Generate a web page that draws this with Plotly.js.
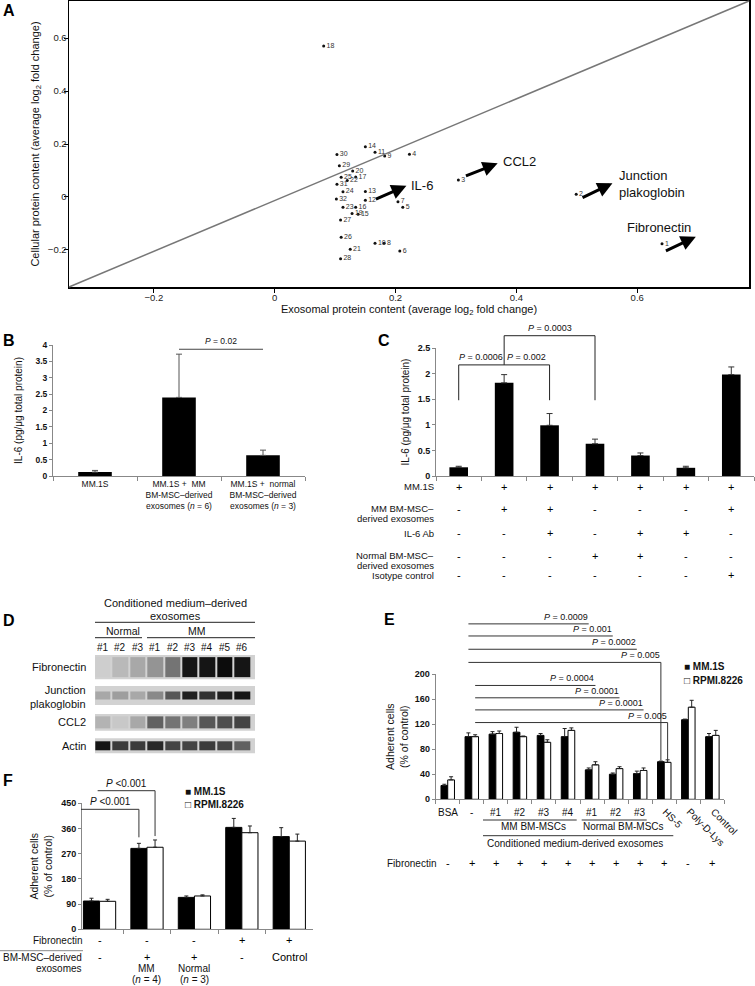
<!DOCTYPE html>
<html><head><meta charset="utf-8">
<script src="https://cdn.plot.ly/plotly-3.0.1.min.js"></script>
<style>html,body{margin:0;padding:0;background:#fff}#chart{width:755px;height:986px}</style>
</head><body><div id="chart"></div>
<script>
// ================= DATA =================
// Panel A: proteins (id), exosomal vs cellular log2 fold change
const aIds = ['1','2','3','4','5','6','7','8','9','10','11','12','13','14','15','16','17','18','19','20','21','22','23','24','25','26','27','28','29','30','31','32'];
const aExo = [0.641,0.499,0.304,0.223,0.212,0.207,0.204,0.181,0.182,0.166,0.166,0.150,0.150,0.150,0.138,0.134,0.134,0.081,0.128,0.129,0.125,0.120,0.113,0.113,0.110,0.110,0.109,0.109,0.107,0.103,0.103,0.102];
const aCell = [-0.177,0.010,0.064,0.161,-0.039,-0.204,-0.018,-0.175,0.155,-0.175,0.169,-0.012,0.021,0.190,-0.065,-0.039,0.075,0.570,-0.062,0.098,-0.197,0.062,-0.039,0.020,0.074,-0.152,-0.087,-0.233,0.118,0.160,0.048,-0.008];
const aTicks = [-0.2,0,0.2,0.4,0.6];

// Panel B
const bGroups = ['MM.1S','MM.1S +  MM<br>BM-MSC–derived<br>exosomes (<i>n</i> = 6)','MM.1S +  normal<br>BM-MSC–derived<br>exosomes (<i>n</i> = 3)'];
const bIL6 = [0.12, 2.40, 0.63];
const bErr = [0.05, 1.32, 0.16];
const bP = '0.02';

// Panel C
const cIL6 = [0.17, 1.82, 0.99, 0.63, 0.40, 0.16, 1.98];
const cErr = [0.02, 0.16, 0.23, 0.09, 0.05, 0.03, 0.15];
const cRows = [['MM.1S'],['MM BM-MSC–','derived exosomes'],['IL-6 Ab'],['Normal BM-MSC–','derived exosomes'],['Isotype control']];
const cSigns = [
  ['+','+','+','+','+','+','+'],
  ['-','+','+','-','-','-','+'],
  ['-','-','+','-','+','+','-'],
  ['-','-','-','+','+','-','-'],
  ['-','-','-','-','-','-','+']];
const cP = ['0.0006','0.002','0.0003'];

// Panel D (band intensities 0..1 per lane)
const dLanes = ['#1','#2','#3','#1','#2','#3','#4','#5','#6'];
const dProteins = ['Fibronectin','Junction<br>plakoglobin','CCL2','Actin'];
const dFibronectin = [0.02,0.12,0.2,0.3,0.45,0.95,0.95,1.0,0.95];
const dPlakoglobin = [0.2,0.25,0.2,0.35,0.6,0.9,0.8,0.9,0.95];
const dCCL2 = [0.15,0.05,0.2,0.55,0.45,0.4,0.6,0.65,0.7];
const dActin = [0.95,0.75,0.75,0.85,0.7,0.7,0.75,0.7,0.55];

// Panel E
const eCats = ['BSA','-','#1','#2','#3','#4','#1','#2','#3','HS-5','Poly-D-Lys','Control'];
const eMM = [22,100,104,107,102,100,47,40,41,60,127,100];
const eMMerr = [2,6,4,8,3,13,3,2,4,1,1,5];
const eRPMI = [31,100,105,100,91,110,55,49,46,59,147,102];
const eRPMIerr = [5,3,4,1,4,4,5,3,4,4,11,8];
const eFn = ['-','+','+','+','+','+','+','+','+','+','-','+'];
const ePmm = ['0.0009','0.001','0.0002','0.005'];
const ePrpmi = ['0.0004','0.0001','0.0001','0.005'];
const seriesNames = ['MM.1S','RPMI.8226'];

// Panel F
const fMM = [101,289,114,364,331];
const fMMerr = [10,18,5,32,32];
const fRPMI = [100,293,119,345,315];
const fRPMIerr = [7,26,4,24,25];
const fFn = ['-','-','-','+','+'];
const fExo = [['-'],['+','MM','(<i>n</i> = 4)'],['+','Normal','(<i>n</i> = 3)'],['-'],['Control']];
const fP = ['<0.001','<0.001'];

// ================= LAYOUT HELPERS =================
const FONT = 'Liberation Sans, Arial, Helvetica, sans-serif';
const W = 755, H = 986;
const PAN = {
  A:{x:[69,749], xr:[-0.3405,0.785], y:[1,287], yr:[-0.34,0.74]},
  B:{x:[53,305], xr:[-0.5,2.5], y:[345,476], yr:[0,4]},
  C:{x:[436,754], xr:[-0.5,6.5], y:[348,476], yr:[0,2.5]},
  D:{x:[95,255], xr:[-0.46,8.73], y:[650,758], yr:[108,0]},
  E:{x:[435.7,724.4], xr:[-0.5,11.5], y:[674,799.3], yr:[0,200]},
  F:{x:[82,313], xr:[-0.37,4.5], y:[803.3,929.3], yr:[0,450]}
};
const domX = p => [PAN[p].x[0]/W, PAN[p].x[1]/W];
const domY = p => [1-PAN[p].y[1]/H, 1-PAN[p].y[0]/H];
const pxX = (p,v) => {const a=PAN[p]; return a.x[0]+(v-a.xr[0])/(a.xr[1]-a.xr[0])*(a.x[1]-a.x[0]);};
const pxY = (p,v) => {const a=PAN[p]; return a.y[1]-(v-a.yr[0])/(a.yr[1]-a.yr[0])*(a.y[1]-a.y[0]);};
const fx = v => v/W, fy = v => 1-v/H;
const idx = arr => arr.map((_,i)=>i);
const zeros = arr => arr.map(()=>0);

const shapes = [];
const ann = [];
function seg(x0,y0,x1,y1,color,width){
  shapes.push({type:'line',xref:'paper',yref:'paper',x0:fx(x0),y0:fy(y0),x1:fx(x1),y1:fy(y1),line:{color:color||'#222',width:width||1}});
}
function txt(x,y,text,o){
  o = o||{};
  ann.push({xref:'paper',yref:'paper',x:fx(x),y:fy(y),text:text,showarrow:false,
    font:{family:FONT,size:o.size||9,color:o.color||'#111',weight:o.weight||'normal'},
    xanchor:o.xa||'center',yanchor:o.ya||'middle',align:o.align||'center',textangle:o.angle||0,borderpad:0});
}

// ================= TRACES =================
const traces = [];
// A
traces.push({type:'scatter',mode:'markers+text',x:aExo,y:aCell,text:aIds,textposition:'middle right',
  textfont:{family:FONT,size:7,color:'#333'},marker:{size:3,color:'#111'},xaxis:'x',yaxis:'y',showlegend:false,hoverinfo:'skip',cliponaxis:false});
// B
traces.push({type:'bar',x:bGroups,y:bIL6,width:0.4,marker:{color:'#000'},
  error_y:{type:'data',symmetric:false,array:bErr,arrayminus:zeros(bErr),color:'#555',thickness:1,width:3},
  xaxis:'x2',yaxis:'y2',showlegend:false});
// C
traces.push({type:'bar',x:idx(cIL6),y:cIL6,width:0.41,marker:{color:'#000'},
  error_y:{type:'data',symmetric:false,array:cErr,arrayminus:zeros(cErr),color:'#333',thickness:1,width:3},
  xaxis:'x3',yaxis:'y3',showlegend:false});
// D blots
const dRowsData = [dFibronectin,dPlakoglobin,dCCL2,dActin];
const dRowTop = [5,36,64,88.3], dRowBot = [29.3,55,80.7,103.3], dBand = [20,8,12,9];
dRowsData.forEach((vals,r)=>{
  shapes.push({type:'rect',xref:'x4 domain',yref:'y4',x0:0,x1:1,y0:dRowTop[r],y1:dRowBot[r],fillcolor:'#d2d2d2',line:{width:0},layer:'below'});
  traces.push({type:'heatmap',z:[vals],x0:0,dx:1,y0:(dRowTop[r]+dRowBot[r])/2,dy:dBand[r],xgap:2,
    zmin:0,zmax:1,colorscale:[[0,'#d2d2d2'],[0.5,'#6a6a6a'],[1,'#0c0c0c']],showscale:false,
    xaxis:'x4',yaxis:'y4',hoverinfo:'skip'});
});
// E
traces.push({type:'bar',name:seriesNames[0],x:idx(eMM),y:eMM,width:0.28,offset:-0.28,
  marker:{color:'#000',line:{color:'#000',width:1}},
  error_y:{type:'data',symmetric:false,array:eMMerr,arrayminus:zeros(eMMerr),color:'#222',thickness:1,width:2},
  xaxis:'x5',yaxis:'y5',showlegend:false});
traces.push({type:'bar',name:seriesNames[1],x:idx(eRPMI),y:eRPMI,width:0.28,offset:0,
  marker:{color:'#fff',line:{color:'#000',width:1}},
  error_y:{type:'data',symmetric:false,array:eRPMIerr,arrayminus:zeros(eRPMIerr),color:'#222',thickness:1,width:2},
  xaxis:'x5',yaxis:'y5',showlegend:false});
// F
traces.push({type:'bar',name:seriesNames[0],x:idx(fMM),y:fMM,width:0.34,offset:-0.34,
  marker:{color:'#000',line:{color:'#000',width:1}},
  error_y:{type:'data',symmetric:false,array:fMMerr,arrayminus:zeros(fMMerr),color:'#222',thickness:1,width:2},
  xaxis:'x6',yaxis:'y6',showlegend:false});
traces.push({type:'bar',name:seriesNames[1],x:idx(fRPMI),y:fRPMI,width:0.34,offset:0,
  marker:{color:'#fff',line:{color:'#000',width:1}},
  error_y:{type:'data',symmetric:false,array:fRPMIerr,arrayminus:zeros(fRPMIerr),color:'#222',thickness:1,width:2},
  xaxis:'x6',yaxis:'y6',showlegend:false});

// ================= ANNOTATIONS / SHAPES =================
// panel letters
[['A',2,1],['B',2,331],['C',377,331],['D',2,611],['E',383,610],['F',2,771]].forEach(l=>
  txt(l[1],l[2],l[0],{size:16,weight:'bold',xa:'left',ya:'top',color:'#000'}));

// A: diagonal reference line (corner to corner)
shapes.push({type:'line',xref:'x domain',yref:'y domain',x0:0,y0:0,x1:1,y1:1,line:{color:'#777',width:1.5}});
// A: arrows + labels
const arrowsA = [
  {hx:0.218,hy:0.042,tx:0.165,ty:-0.011,lx:0.223,ly:0.045,t:'IL-6',xa:'left'},
  {hx:0.369,hy:0.127,tx:0.314,ty:0.077,lx:0.375,ly:0.133,t:'CCL2',xa:'left'},
  {hx:0.559,hy:0.052,tx:0.507,ty:-0.005,lx:0.567,ly:0.049,t:'Junction<br>plakoglobin',xa:'left'},
  {hx:0.697,hy:-0.150,tx:0.645,ty:-0.206,lx:0.636,ly:-0.117,t:'Fibronectin',xa:'center'}];
arrowsA.forEach(a=>{
  ann.push({xref:'x',yref:'y',axref:'x',ayref:'y',x:a.hx,y:a.hy,ax:a.tx,ay:a.ty,text:'',showarrow:true,
    arrowhead:2,arrowsize:1,arrowwidth:3,arrowcolor:'#000'});
  ann.push({xref:'x',yref:'y',x:a.lx,y:a.ly,text:a.t,showarrow:false,xanchor:a.xa,yanchor:'middle',align:'left',
    font:{family:FONT,size:13,color:'#111'}});
});

// B: P bracket
{
  const y = pxY('B',3.87);
  seg(pxX('B',1),y,pxX('B',2),y,'#444',1);
  txt(pxX('B',1.5),y-2,'<i>P</i> = '+bP,{size:8.5,ya:'bottom'});
}

// C: brackets
{
  const yl = pxY('C',2.17), yu = pxY('C',2.74), yb = pxY('C',1.48);
  seg(pxX('C',0),yl,pxX('C',2),yl);
  seg(pxX('C',0),yl,pxX('C',0),yb);
  seg(pxX('C',2),yl,pxX('C',2),yb);
  seg(pxX('C',1),yu,pxX('C',1),yl);
  seg(pxX('C',1),yu,pxX('C',3),yu);
  seg(pxX('C',3),yu,pxX('C',3),yb);
  txt(pxX('C',0.5),yl-1.5,'<i>P</i> = '+cP[0],{size:9,ya:'bottom'});
  txt(pxX('C',1.5),yl-1.5,'<i>P</i> = '+cP[1],{size:9,ya:'bottom'});
  txt(pxX('C',2),yu-1.5,'<i>P</i> = '+cP[2],{size:9,ya:'bottom'});
  // table
  const rowY = [486.7,508.5,533.3,555.5,575];
  cRows.forEach((lines,i)=>{
    lines.forEach((l,k)=>txt(435,rowY[i]+k*9.8,l,{size:9.5,xa:'right'}));
    cSigns[i].forEach((s,j)=>txt(pxX('C',j),rowY[i],s,{size:11,color:'#000'}));
  });
}

// D: header, lane labels, protein labels
txt(175,603.3,'Conditioned medium–derived',{size:11});
txt(175,616,'exosomes',{size:11});
seg(95,622.3,255,622.3,'#222',1);
txt(123,631,'Normal',{size:10.5});
txt(197,631,'MM',{size:10.5});
seg(95,637.7,142,637.7,'#222',1);
seg(147,637.7,255,637.7,'#222',1);
dLanes.forEach((l,i)=>ann.push({xref:'x4',yref:'paper',x:i,y:fy(647.3),text:l,showarrow:false,
  xanchor:'center',yanchor:'middle',font:{family:FONT,size:10,color:'#111'}}));
const dLabelY = [667,696.5,722,746];
dProteins.forEach((p,i)=>txt(86.7,dLabelY[i],p,{size:11,xa:'right',align:'right'}));

// E: brackets
{
  const upY = [280,260.7,239.5,218.5], loY = [181.7,162,142.7,122.5];
  upY.forEach((v,i)=>{
    const y = pxY('E',v), xe = pxX('E',6+i-0.14);
    seg(pxX('E',0.86),y,xe,y,'#333',1);
    txt(xe,y-1,'<i>P</i> = '+ePmm[i],{size:9,xa:'right',ya:'bottom'});
  });
  loY.forEach((v,i)=>{
    const y = pxY('E',v), xe = pxX('E',6+i+0.14);
    seg(pxX('E',1.14),y,xe,y,'#333',1);
    txt(xe,y-1,'<i>P</i> = '+ePrpmi[i],{size:9,xa:'right',ya:'bottom'});
  });
  seg(pxX('E',8.86),pxY('E',upY[3]),pxX('E',8.86),pxY('E',62),'#333',1);
  seg(pxX('E',9.14),pxY('E',loY[3]),pxX('E',9.14),pxY('E',62),'#333',1);
  // category labels
  eCats.forEach((c,i)=>{
    if(i<9) txt(pxX('E',i),812,c,{size:10});
    else txt(pxX('E',i)-5,805,c,{size:10,angle:45,xa:'left',ya:'top'});
  });
  seg(483,820,576.7,820,'#333',1);
  seg(581.7,820,646.7,820,'#333',1);
  txt(533,826.5,'MM BM-MSCs',{size:10});
  txt(623,826.5,'Normal BM-MSCs',{size:10});
  seg(483,835.7,673.3,835.7,'#333',1);
  txt(575,843,'Conditioned medium-derived exosomes',{size:10});
  txt(436.7,863.3,'Fibronectin',{size:10,xa:'right'});
  eFn.forEach((s,i)=>txt(pxX('E',i),863.3,s,{size:11,color:'#000'}));
  // legend
  txt(683,666.7,'■ '+seriesNames[0],{size:10,xa:'left',weight:'bold'});
  txt(683,680,'□ '+seriesNames[1],{size:10,xa:'left',weight:'bold'});
}

// F: brackets
{
  const yl = pxY('F',428.5), yu = pxY('F',495);
  seg(81,yl,pxX('F',0.83),yl,'#333',1);
  seg(pxX('F',0.83),yl,pxX('F',0.83),pxY('F',328.5),'#333',1);
  seg(pxX('F',-0.04),yu,pxX('F',1.17),yu,'#333',1);
  seg(pxX('F',1.17),yu,pxX('F',1.17),pxY('F',333),'#333',1);
  txt(110,yl-1,'<i>P</i> '+fP[0],{size:10,ya:'bottom'});
  txt(126.7,yu-1,'<i>P</i> '+fP[1],{size:10,ya:'bottom'});
  txt(83,940,'Fibronectin',{size:10,xa:'right'});
  fFn.forEach((s,i)=>txt(pxX('F',i),940,s,{size:11,color:'#000'}));
  seg(0,950.7,83,950.7,'#888',1);
  txt(83,957.3,'BM-MSC–derived',{size:10,xa:'right'});
  txt(83,968.8,'exosomes',{size:10,xa:'right'});
  fExo.forEach((lines,i)=>lines.forEach((l,k)=>txt(pxX('F',i),957.3+k*11.2,l,{size:k===0?11:10,color:k===0?'#000':'#111'})));
  // legend
  txt(184,791.7,'■ '+seriesNames[0],{size:10,xa:'left',weight:'bold'});
  txt(184,804.3,'□ '+seriesNames[1],{size:10,xa:'left',weight:'bold'});
}

// ================= AXES =================
const baseAx = {showgrid:false,zeroline:false,automargin:false,tickfont:{family:FONT,size:9,color:'#111'}};
const grayAx = Object.assign({},baseAx,{showline:true,linecolor:'#888',linewidth:1,ticks:'outside',ticklen:4,tickcolor:'#888'});
const boundaries = n => Array.from({length:n+1},(_,i)=>i-0.5);

const layout = {
  width:W,height:H,margin:{l:0,r:0,t:0,b:0},paper_bgcolor:'#fff',plot_bgcolor:'rgba(0,0,0,0)',
  font:{family:FONT,size:9,color:'#111'},barmode:'overlay',showlegend:false,
  xaxis:Object.assign({},baseAx,{domain:domX('A'),range:PAN.A.xr,anchor:'y',tickvals:aTicks,showline:true,mirror:true,
    linecolor:'#000',linewidth:1.5,ticks:'outside',ticklen:4,tickcolor:'#000',tickfont:{family:FONT,size:9.5,color:'#222'},
    ticklabelstandoff:-3,
    title:{text:'Exosomal protein content (average log<sub>2</sub> fold change)',font:{family:FONT,size:11,color:'#111'},standoff:0}}),
  yaxis:Object.assign({},baseAx,{domain:domY('A'),range:PAN.A.yr,anchor:'x',tickvals:aTicks,showline:true,mirror:true,
    linecolor:'#000',linewidth:1.5,ticks:'outside',ticklen:4,tickcolor:'#000',tickfont:{family:FONT,size:9.5,color:'#222'},
    ticklabelstandoff:-5,
    title:{text:'Cellular protein content (average log<sub>2</sub> fold change)',font:{family:FONT,size:11,color:'#111'},standoff:6}}),
  xaxis2:Object.assign({},grayAx,{domain:domX('B'),range:PAN.B.xr,anchor:'y2',type:'category',tickson:'boundaries',
    tickfont:{family:FONT,size:8.5,color:'#111'}}),
  yaxis2:Object.assign({},grayAx,{domain:domY('B'),range:PAN.B.yr,anchor:'x2',dtick:0.5,ticklen:3,
    tickfont:{family:FONT,size:8.5,color:'#111',weight:'bold'},
    title:{text:'IL-6 (pg/μg total protein)',font:{family:FONT,size:10,color:'#111'},standoff:10}}),
  xaxis3:Object.assign({},grayAx,{domain:domX('C'),range:PAN.C.xr,anchor:'y3',tickvals:boundaries(7),showticklabels:false}),
  yaxis3:Object.assign({},grayAx,{domain:domY('C'),range:PAN.C.yr,anchor:'x3',dtick:0.5,ticklen:3,
    tickfont:{family:FONT,size:9,color:'#111',weight:'bold'},
    title:{text:'IL-6 (pg/μg total protein)',font:{family:FONT,size:10,color:'#111'},standoff:6}}),
  xaxis4:{domain:domX('D'),range:PAN.D.xr,anchor:'y4',visible:false},
  yaxis4:{domain:domY('D'),range:PAN.D.yr,anchor:'x4',visible:false},
  xaxis5:Object.assign({},grayAx,{domain:domX('E'),range:PAN.E.xr,anchor:'y5',tickvals:boundaries(12),showticklabels:false}),
  yaxis5:Object.assign({},grayAx,{domain:domY('E'),range:PAN.E.yr,anchor:'x5',dtick:40,ticklen:3,
    tickfont:{family:FONT,size:9,color:'#111',weight:'bold'},
    title:{text:'Adherent cells<br>(% of control)',font:{family:FONT,size:10.5,color:'#111'},standoff:4}}),
  xaxis6:Object.assign({},grayAx,{domain:domX('F'),range:PAN.F.xr,anchor:'y6',tickvals:[0.5,1.5,2.5,3.5],showticklabels:false}),
  yaxis6:Object.assign({},grayAx,{domain:domY('F'),range:PAN.F.yr,anchor:'x6',dtick:90,ticklen:3,
    tickfont:{family:FONT,size:9,color:'#111',weight:'bold'},
    title:{text:'Adherent cells<br>(% of control)',font:{family:FONT,size:10.5,color:'#111'},standoff:6}}),
  shapes:shapes,annotations:ann
};
Plotly.newPlot('chart',traces,layout,{displayModeBar:false,staticPlot:true});
</script></body></html>
